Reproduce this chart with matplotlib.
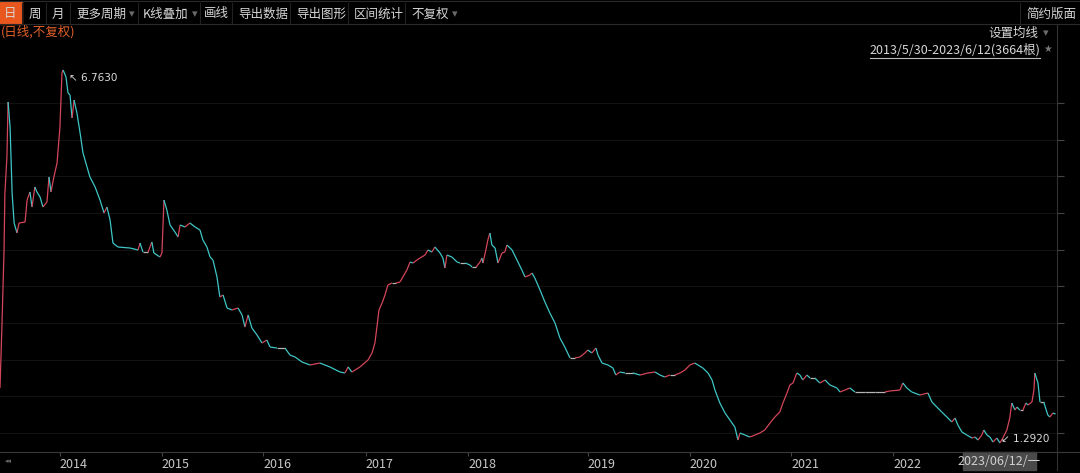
import numpy as np
import matplotlib
matplotlib.use('Agg')
import matplotlib.pyplot as plt
from matplotlib.collections import LineCollection
from matplotlib.lines import Line2D
from matplotlib.patches import Rectangle

plt.rcParams['font.family'] = ['Noto Sans CJK SC', 'DejaVu Sans']

# bar index (daily bars, 3664 in total) and closing value
bars = [0, 7, 14, 17, 24, 28, 35, 42, 49, 59, 66, 87, 94, 104, 111, 121, 128, 139, 149, 163,
        170, 177, 187, 198, 208, 215, 219, 229, 236, 243, 250, 257, 267, 278, 288, 302, 312, 330, 347, 361,
        371, 382, 392, 409, 451, 479, 486, 496, 514, 527, 534, 555, 562, 569, 579, 590, 607, 618, 625, 642,
        659, 677, 694, 704, 718, 729, 739, 753, 763, 774, 788, 805, 826, 840, 850, 861, 874, 892, 909, 926,
        937, 961, 989, 1006, 1024, 1048, 1076, 1110, 1145, 1180, 1197, 1208, 1221, 1249, 1277, 1291, 1301, 1308, 1315, 1326,
        1336, 1346, 1360, 1374, 1388, 1398, 1412, 1423, 1433, 1447, 1457, 1475, 1485, 1499, 1509, 1527, 1537, 1544, 1551, 1568,
        1586, 1596, 1614, 1631, 1638, 1652, 1666, 1672, 1676, 1686, 1693, 1700, 1707, 1718, 1728, 1742, 1752, 1759, 1777, 1794,
        1811, 1822, 1839, 1846, 1856, 1874, 1891, 1908, 1926, 1943, 1960, 1978, 1995, 2012, 2030, 2040, 2054, 2068, 2075, 2089,
        2110, 2127, 2137, 2151, 2169, 2196, 2221, 2248, 2273, 2290, 2307, 2325, 2342, 2360, 2377, 2394, 2411, 2422, 2439, 2457,
        2471, 2481, 2498, 2516, 2533, 2550, 2561, 2568, 2585, 2602, 2620, 2637, 2654, 2672, 2689, 2706, 2717, 2731, 2741, 2752,
        2765, 2776, 2786, 2800, 2811, 2828, 2845, 2863, 2880, 2904, 2915, 2932, 2949, 2967, 3001, 3036, 3071, 3088, 3123, 3133,
        3147, 3164, 3192, 3220, 3234, 3251, 3268, 3286, 3303, 3314, 3324, 3338, 3355, 3373, 3383, 3394, 3407, 3414, 3425, 3435,
        3446, 3459, 3470, 3480, 3494, 3504, 3511, 3522, 3529, 3539, 3550, 3560, 3567, 3581, 3588, 3591, 3602, 3609, 3622, 3636,
        3643, 3654, 3663]
close = [2.099, 3.052, 4.123, 4.959, 5.487, 6.294, 5.927, 4.959, 4.519, 4.372, 4.519, 4.533, 4.856, 4.974, 4.753, 5.047, 4.974, 4.900, 4.753, 4.827,
         5.194, 4.974, 5.194, 5.399, 5.927, 6.719, 6.763, 6.660, 6.426, 6.396, 6.059, 6.323, 6.132, 5.839, 5.546, 5.340, 5.194, 5.047, 4.856, 4.665,
         4.753, 4.563, 4.225, 4.167, 4.152, 4.123, 4.225, 4.093, 4.093, 4.240, 4.079, 4.020, 4.079, 4.856, 4.709, 4.490, 4.387, 4.314, 4.490, 4.460,
         4.519, 4.460, 4.416, 4.270, 4.167, 4.020, 3.976, 3.727, 3.433, 3.463, 3.272, 3.243, 3.272, 3.169, 2.993, 3.169, 2.979, 2.876, 2.759, 2.803,
         2.700, 2.685, 2.685, 2.583, 2.553, 2.480, 2.436, 2.465, 2.407, 2.333, 2.319, 2.407, 2.333, 2.407, 2.509, 2.612, 2.759, 2.993, 3.243, 3.345,
         3.463, 3.609, 3.639, 3.639, 3.653, 3.727, 3.829, 3.947, 3.932, 3.976, 4.005, 4.049, 4.123, 4.093, 4.167, 4.079, 4.005, 3.859, 4.049, 4.020,
         3.947, 3.932, 3.932, 3.903, 3.873, 3.873, 3.947, 4.005, 3.932, 4.123, 4.270, 4.372, 4.196, 4.152, 3.932, 4.079, 4.093, 4.196, 4.123, 3.976,
         3.829, 3.727, 3.756, 3.785, 3.712, 3.536, 3.360, 3.199, 3.052, 2.832, 2.700, 2.539, 2.539, 2.553, 2.612, 2.656, 2.612, 2.685, 2.583, 2.465,
         2.436, 2.392, 2.289, 2.333, 2.319, 2.319, 2.289, 2.319, 2.333, 2.289, 2.260, 2.289, 2.289, 2.319, 2.363, 2.436, 2.465, 2.436, 2.392, 2.319,
         2.216, 2.069, 1.879, 1.732, 1.629, 1.527, 1.336, 1.439, 1.409, 1.380, 1.409, 1.439, 1.483, 1.585, 1.673, 1.747, 1.879, 2.025, 2.143, 2.172,
         2.319, 2.289, 2.216, 2.289, 2.245, 2.245, 2.172, 2.216, 2.143, 2.099, 2.040, 2.069, 2.099, 2.040, 2.040, 2.040, 2.040, 2.055, 2.069, 2.172,
         2.099, 2.040, 1.996, 2.025, 1.893, 1.820, 1.747, 1.673, 1.600, 1.659, 1.556, 1.453, 1.409, 1.365, 1.380, 1.336, 1.409, 1.483, 1.409, 1.380,
         1.306, 1.365, 1.292, 1.365, 1.483, 1.659, 1.879, 1.776, 1.820, 1.776, 1.776, 1.879, 1.849, 1.893, 2.069, 2.319, 2.172, 1.893, 1.893, 1.703,
         1.673, 1.732, 1.717]

year_labels = ['2014', '2015', '2016', '2017', '2018', '2019', '2020', '2021', '2022']
year_bars = [208, 562, 913, 1270, 1624, 2040, 2394, 2745, 3099]
high_label = '6.7630'
low_label = '1.2920'
toolbar_items = ['日', '周', '月', '更多周期', 'K线叠加', '画线', '导出数据', '导出图形', '区间统计', '不复权']

W, H = 1080, 473
fig = plt.figure(figsize=(W / 100, H / 100), dpi=100, facecolor='#000000')

def fx(px):
    return px / W

def fy(py):
    return 1 - py / H

# main price panel
top_px, bot_px, right_px = 25, 452, 1057
ax = fig.add_axes([0, fy(bot_px), fx(right_px), (bot_px - top_px) / H])
ax.set_facecolor('#000000')
ax.set_xlim(0, 3668)
ax.set_ylim(1.160, 7.423)

pts = np.column_stack([bars, close])
segs = np.stack([pts[:-1], pts[1:]], axis=1)
diff = np.diff(close)
cols = ['#d4465a' if d > 0.01 else ('#3ec6c6' if d < -0.01 else '#b5b5b5') for d in diff]
ax.add_collection(LineCollection(segs, colors=cols, linewidths=0.9))

# grid + right axis
yt = np.linspace(1.437, 6.279, 10)
ax.set_yticks(yt)
ax.set_yticklabels([])
ax.yaxis.tick_right()
ax.tick_params(axis='y', colors='#444444', length=5, width=0.8, direction='out')
for v in yt:
    ax.axhline(v, color='#121212', lw=0.8, zorder=0)
for s in ['top', 'left', 'bottom']:
    ax.spines[s].set_visible(False)
ax.spines['right'].set_color('#333333')
ax.set_xticks(year_bars)
ax.set_xticklabels(year_labels, ha='left', color='#c8c8c8', fontsize=9)
ax.tick_params(axis='x', colors='#444444', labelcolor='#c8c8c8', length=3, width=0.8,
               direction='out', pad=1)

# high / low annotations
i_hi = int(np.argmax(close))
i_lo = int(np.argmin(close))
ax.annotate('\u2196 ' + high_label, (bars[i_hi], close[i_hi]), xytext=(4, -8), textcoords='offset points',
            color='#dcdcdc', fontsize=7.5, family=['DejaVu Sans'])
ax.annotate('\u2199 ' + low_label, (bars[i_lo], close[i_lo]), xytext=(1, 1), textcoords='offset points',
            color='#dcdcdc', fontsize=7.5, family=['DejaVu Sans'])

# frame lines
fig.add_artist(Line2D([0, 1], [fy(bot_px), fy(bot_px)], color='#3a3a3a', lw=0.8))
fig.add_artist(Line2D([0, 1], [fy(24), fy(24)], color='#2a2a2a', lw=0.8))
fig.add_artist(Line2D([0, 1], [fy(1), fy(1)], color='#2a2a2a', lw=0.8))
fig.add_artist(Line2D([fx(right_px), fx(right_px)], [fy(bot_px), fy(470)], color='#333333', lw=0.8))

# toolbar
fig.add_artist(Rectangle((0, fy(24)), fx(22), (24 - 2) / H, color='#e8571e'))
tb_x = [4, 29, 52, 76, 143, 204, 238, 296, 354, 411]
tb_drop = [False, False, False, True, True, False, False, False, False, True]
tb_sep = [22, 46, 70, 138, 200, 232, 290, 348, 405]
for lbl, x0, dd in zip(toolbar_items, tb_x, tb_drop):
    fig.text(fx(x0), fy(14), lbl, color='#d6d6d6', fontsize=9, va='center', ha='left')
    if dd:
        w = 12.2 * len(lbl) if lbl[0] != 'K' else 45
        fig.text(fx(x0 + w + 4), fy(14), '\u25be', color='#6a6a6a', fontsize=8, va='center', ha='left',
                 family=['DejaVu Sans'])
for xs in tb_sep:
    fig.add_artist(Line2D([fx(xs), fx(xs)], [fy(3), fy(23)], color='#222222', lw=0.8))
fig.add_artist(Line2D([fx(1020), fx(1020)], [fy(3), fy(23)], color='#222222', lw=0.8))
fig.text(fx(1026), fy(14), '简约版面', color='#d6d6d6', fontsize=9, va='center', ha='left')

# info line
fig.text(fx(1), fy(32), '(日线,不复权)', color='#e0602a', fontsize=9, va='center', ha='left')
fig.text(fx(1038), fy(33), '设置均线', color='#d6d6d6', fontsize=9, va='center', ha='right')
fig.text(fx(1043), fy(33), '\u25be', color='#6a6a6a', fontsize=8, va='center', ha='left', family=['DejaVu Sans'])
fig.text(fx(1040), fy(50), '2013/5/30-2023/6/12(3664根)', color='#d6d6d6', fontsize=9,
         va='center', ha='right')
fig.add_artist(Line2D([fx(870), fx(1040)], [fy(58), fy(58)], color='#bbbbbb', lw=0.8))
fig.text(fx(1043), fy(49), '\u2605', color='#777777', fontsize=7, va='center', ha='left', family=['DejaVu Sans'])

# bottom strip
fig.text(fx(5), fy(461), '\u25c2\u25c2', color='#666666', fontsize=5, va='center', ha='left', family=['DejaVu Sans'])
fig.add_artist(Rectangle((fx(963), fy(470)), fx(73), 18 / H, color='#4a4a4a'))
fig.text(fx(999), fy(461), '2023/06/12/一', color='#d0d0d0', fontsize=9, va='center', ha='center')

fig.savefig('out.png', dpi=100, facecolor=fig.get_facecolor())
